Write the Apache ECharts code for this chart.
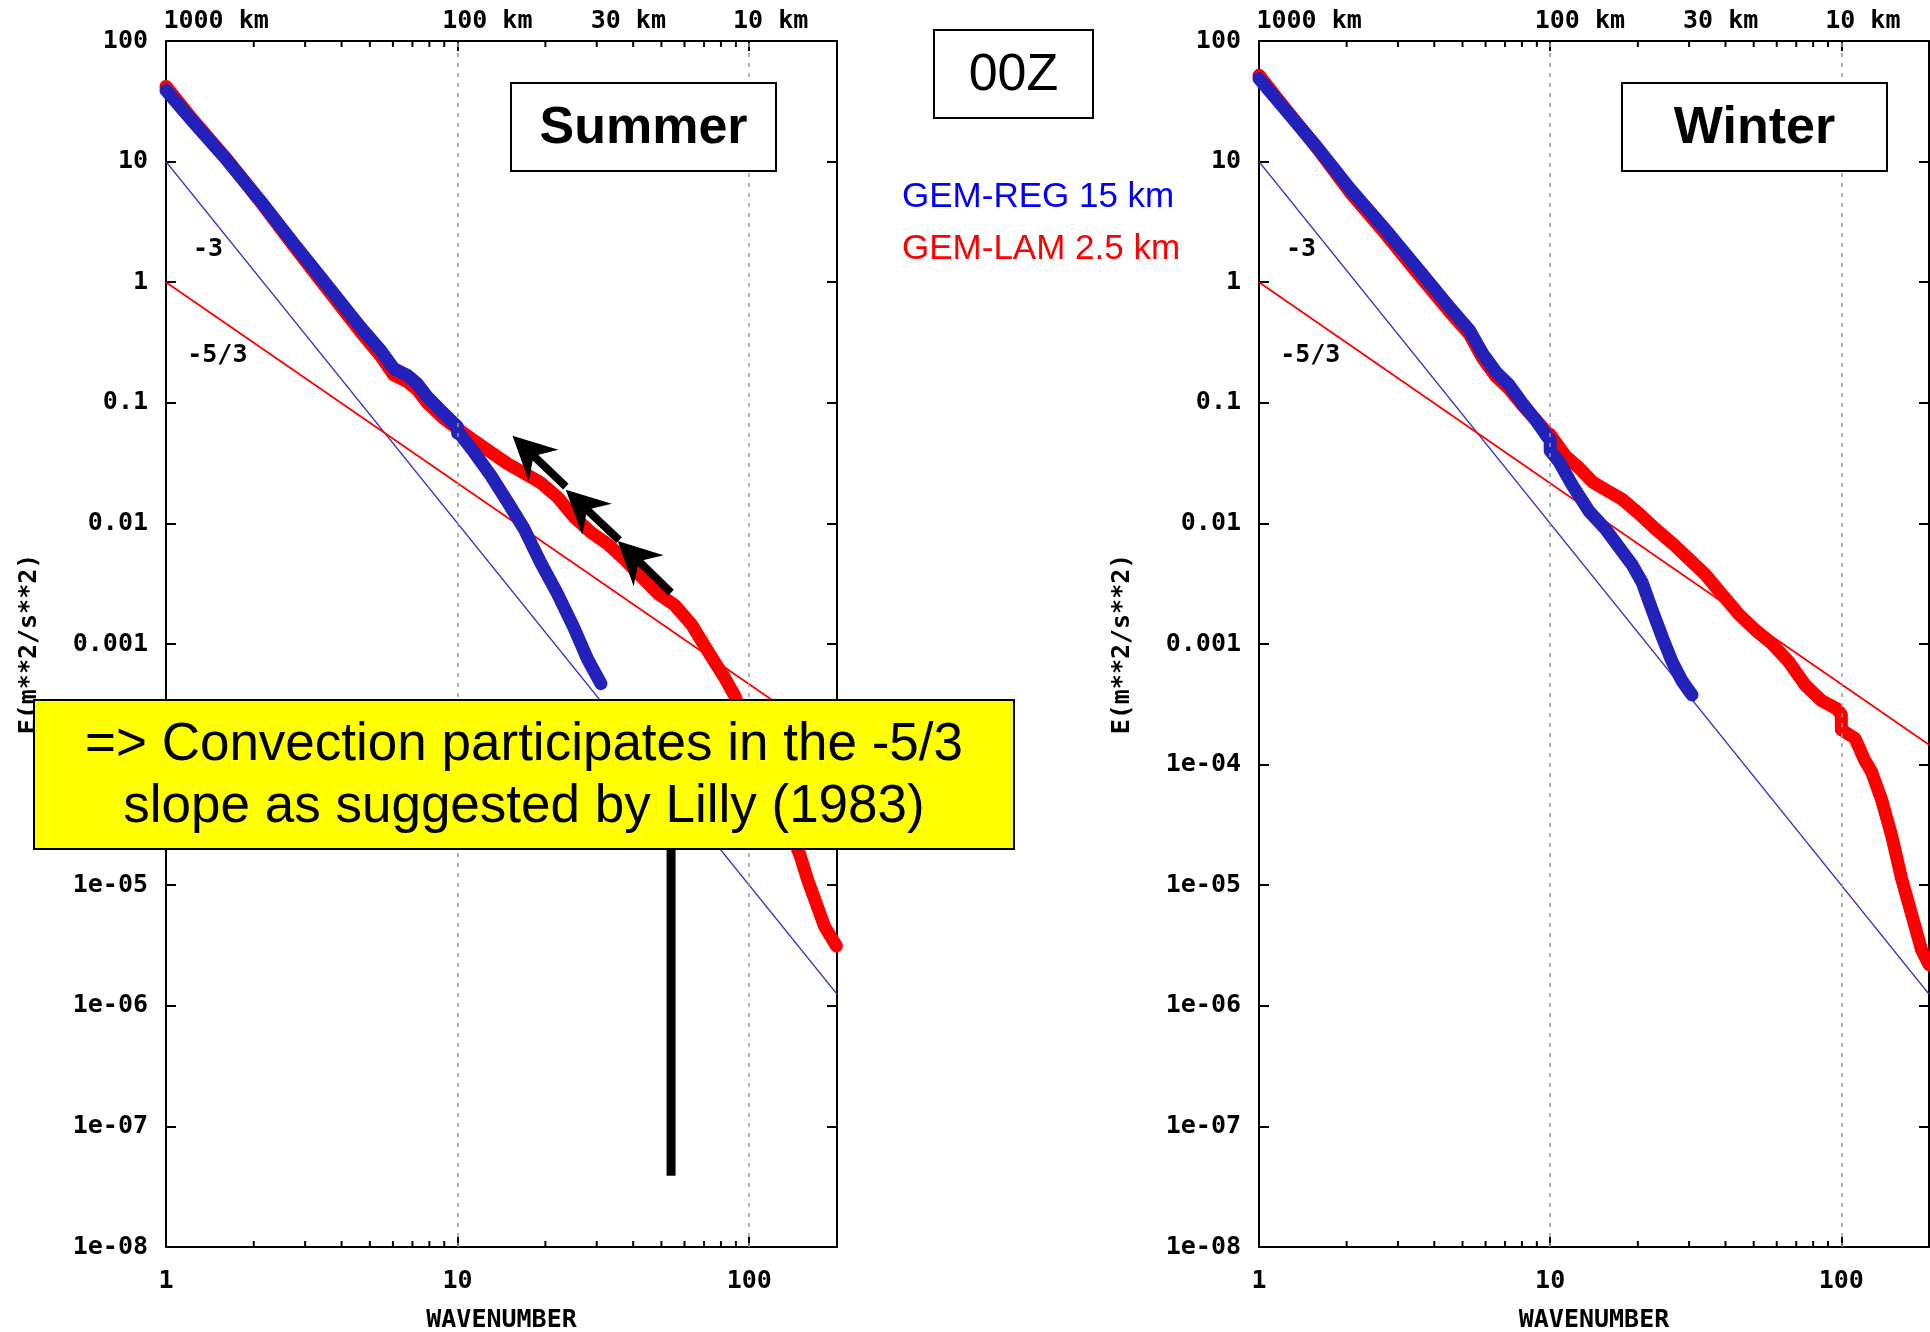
<!DOCTYPE html>
<html>
<head>
<meta charset="utf-8">
<script src="https://cdn.jsdelivr.net/npm/echarts@6/dist/echarts.min.js"></script>
<style>
  html, body { margin: 0; padding: 0; background: #ffffff; }
  #chart { width: 1930px; height: 1332px; }
</style>
</head>
<body>
<div id="chart"></div>
<script>
// Kinetic energy spectra at 00Z: GEM-REG 15 km vs GEM-LAM 2.5 km, Summer and Winter.

// ---- Summer ----
const summerRegN = [1, 1.24, 1.62, 2.1, 2.74, 3.57, 4.64, 5.44, 6.04, 6.72, 7.27, 7.87, 8.97, 10, 10, 10.24, 11.38, 12.98, 14.82, 16.9, 19.3, 22.0, 25.1, 27.9, 31.0];
const summerRegE = [39, 21.3, 10.25, 4.77, 2.09, 0.942, 0.425, 0.273, 0.192, 0.169, 0.144, 0.112, 0.0813, 0.063, 0.056, 0.0542, 0.039, 0.0251, 0.0151, 0.00903, 0.00469, 0.00261, 0.00135, 7.5e-4, 4.69e-4];

const summerLamN = [1, 1.24, 1.62, 2.1, 2.74, 3.57, 4.64, 5.44, 6.04, 6.72, 7.27, 7.87, 8.97, 10, 11.38, 12.98, 14.82, 16.9, 19.3, 22.0, 25.1, 28.7, 32.7, 37.3, 42.6, 48.7, 55.5, 63.3, 72.2, 82.4, 89, 149, 159, 181.5, 199];
const summerLamE = [42, 22, 10.4, 4.7, 2.0, 0.88, 0.39, 0.245, 0.17, 0.15, 0.128, 0.1, 0.074, 0.061, 0.0485, 0.039, 0.0313, 0.0261, 0.0217, 0.0165, 0.01126, 0.0084, 0.00675, 0.00504, 0.00363, 0.00261, 0.0021, 0.00146, 8.7e-4, 5.24e-4, 3.76e-4, 1.8e-5, 1.09e-5, 4.53e-6, 3.14e-6];

// ---- Winter ----
const winterRegN = [1, 1.21, 1.58, 2.05, 2.67, 3.47, 4.51, 5.28, 5.86, 6.52, 7.24, 8.04, 8.93, 9.79, 10, 10, 10.74, 11.93, 13.6, 15.5, 17.2, 19.1, 20.7, 22.4, 24.3, 26.2, 28.4, 30.7];
const winterRegE = [48.8, 28.3, 13.2, 5.97, 2.87, 1.34, 0.622, 0.399, 0.256, 0.18, 0.14, 0.0984, 0.0716, 0.052, 0.05, 0.04, 0.0323, 0.0206, 0.0126, 0.00897, 0.00638, 0.00455, 0.00324, 0.00191, 0.00113, 7.18e-4, 4.92e-4, 3.78e-4];

const winterLamN = [1, 1.21, 1.58, 2.05, 2.67, 3.47, 4.51, 5.28, 5.86, 6.52, 7.24, 8.04, 8.93, 9.79, 10, 11.3, 12.57, 13.96, 15.5, 17.69, 20.17, 23.0, 26.2, 29.9, 34.1, 38.9, 44.4, 50.6, 57.7, 65.8, 75.1, 85.6, 96.4, 100, 100, 111.4, 120, 127, 137.4, 148.7, 160.9, 174.2, 188.4, 200];
const winterLamE = [52, 29, 13, 5.6, 2.65, 1.22, 0.57, 0.37, 0.235, 0.165, 0.13, 0.095, 0.072, 0.056, 0.0547, 0.0361, 0.0288, 0.0221, 0.019, 0.0158, 0.0121, 0.00897, 0.00689, 0.00509, 0.00377, 0.00258, 0.00177, 0.00131, 0.00101, 7.18e-4, 4.57e-4, 3.38e-4, 2.9e-4, 2.6e-4, 1.95e-4, 1.65e-4, 1.1e-4, 8.7e-5, 5.13e-5, 2.6e-5, 1.14e-5, 5.77e-6, 2.93e-6, 2.2e-6];

// Reference power laws (end points): k^-3 and k^-5/3
const slopeMinus3 = [[1, 10], [200, 1.25e-6]];
const slopeMinus53 = [[1, 1], [200, 1.462e-4]];

// Axis ticks and labels
const yTickValues = [1e-8, 1e-7, 1e-6, 1e-5, 1e-4, 1e-3, 1e-2, 1e-1, 1, 10, 100];
const yTickLabels = ['1e-08', '1e-07', '1e-06', '1e-05', '1e-04', '0.001', '0.01', '0.1', '1', '10', '100'];
const xTickValues = [1, 10, 100];
const xTickLabels = ['1', '10', '100'];
const xMajorTicks = [10, 100];
const xMinorTicks = [2, 3, 4, 5, 6, 7, 8, 9, 20, 30, 40, 50, 60, 70, 80, 90];
const xGridLines = [10, 100];

// Wavelength scale along the top (label start wavenumber)
const topScaleLabels = ['1000 km', '100 km', '30 km', '10 km'];
const topScaleStartN = [0.98, 8.85, 28.6, 88];

// Annotations (wavenumber, energy)
const slopeLabels = [{ text: '-3', at: [1.394, 1.86] }, { text: '-5/3', at: [1.5, 0.245] }];
const summerArrows = [
  { tail: [23.5, 0.0202], tip: [15.42, 0.0533] },
  { tail: [35.8, 0.00726], tip: [23.5, 0.019] },
  { tail: [53.95, 0.00267], tip: [35.4, 0.00716] }
];
const summerMarker = { n: 53.95, from: 3e-5, to: 3.9e-8 };

const seasons = ['Summer', 'Winter'];
const regName = 'GEM-REG 15 km';
const lamName = 'GEM-LAM 2.5 km';
const noteLines = ['=> Convection participates in the -5/3', 'slope as suggested by Lilly (1983)'];

const X_MIN = 1, X_MAX = 200, Y_MIN = 1e-8, Y_MAX = 100;
const MONO = '"DejaVu Sans Mono", monospace';
const SANS = '"Liberation Sans", Arial, sans-serif';
const REG_COLOR = '#2222bb';
const LAM_COLOR = '#ff0000';
const BAND = 13;

const pairs = (ns, es) => ns.map((n, i) => [n, es[i]]);
const sameDecade = (a, b) => Math.abs(Math.log10(a) - Math.log10(b)) < 1e-6;

const panels = [
  { reg: pairs(summerRegN, summerRegE), lam: pairs(summerLamN, summerLamE) },
  { reg: pairs(winterRegN, winterRegE), lam: pairs(winterLamN, winterLamE) }
];

const grids = [
  { left: 166, top: 41, width: 671, height: 1206, containLabel: false, outerBoundsMode: 'none' },
  { left: 1259, top: 41, width: 670, height: 1206, containLabel: false, outerBoundsMode: 'none' }
];

const axisText = { color: '#000', fontFamily: MONO, fontWeight: 'bold', fontSize: 25 };
const blackLine = { color: '#000', width: 2 };

function xAxesFor(g) {
  const base = { type: 'log', logBase: 10, gridIndex: g, min: X_MIN, max: X_MAX, splitLine: { show: false } };
  return [
    Object.assign({}, base, {
      position: 'bottom',
      axisLine: { show: true, onZero: false, lineStyle: blackLine },
      axisTick: { show: true, inside: true, length: 10, lineStyle: blackLine, customValues: xMajorTicks },
      axisLabel: Object.assign({
        show: true, margin: 22, customValues: xTickValues,
        formatter: v => { const i = xTickValues.findIndex(t => sameDecade(t, v)); return i >= 0 ? xTickLabels[i] : ''; }
      }, axisText),
      name: 'WAVENUMBER', nameLocation: 'middle', nameGap: 61, nameTextStyle: axisText
    }),
    Object.assign({}, base, {
      position: 'top',
      axisLine: { show: true, onZero: false, lineStyle: blackLine },
      axisTick: { show: true, inside: true, length: 10, lineStyle: blackLine, customValues: xMajorTicks },
      axisLabel: { show: false }
    })
  ];
}

function yAxesFor(g) {
  const base = { type: 'log', logBase: 10, gridIndex: g, min: Y_MIN, max: Y_MAX, splitLine: { show: false } };
  return [
    Object.assign({}, base, {
      position: 'left',
      axisLine: { show: true, onZero: false, lineStyle: blackLine },
      axisTick: { show: true, inside: true, length: 10, lineStyle: blackLine, customValues: yTickValues },
      axisLabel: Object.assign({
        show: true, margin: 18, customValues: yTickValues,
        formatter: v => { const i = yTickValues.findIndex(t => sameDecade(t, v)); return i >= 0 ? yTickLabels[i] : ''; }
      }, axisText),
      name: 'E(m**2/s**2)', nameLocation: 'middle', nameGap: 124, nameRotate: 90, nameTextStyle: axisText
    }),
    Object.assign({}, base, {
      position: 'right',
      axisLine: { show: true, onZero: false, lineStyle: blackLine },
      axisTick: { show: true, inside: true, length: 10, lineStyle: blackLine, customValues: yTickValues },
      axisLabel: { show: false }
    })
  ];
}

function seriesFor(p, g) {
  const ax = { xAxisIndex: 2 * g, yAxisIndex: 2 * g };
  return [
    Object.assign({
      type: 'line', name: 'slope -3', data: slopeMinus3, showSymbol: false, silent: true, z: 1,
      lineStyle: { color: '#3636cc', width: 1.5 },
      markLine: {
        silent: true, symbol: 'none', label: { show: false },
        lineStyle: { color: '#9a9a9a', type: [4, 6], width: 1.5 },
        data: xGridLines.map(v => ({ xAxis: v }))
      }
    }, ax),
    Object.assign({
      type: 'line', name: 'slope -5/3', data: slopeMinus53, showSymbol: false, silent: true, z: 1,
      lineStyle: { color: '#ff0000', width: 1.8 }
    }, ax),
    Object.assign({
      type: 'line', name: lamName, data: p.lam, showSymbol: false, z: 3, color: LAM_COLOR,
      lineStyle: { color: LAM_COLOR, width: BAND, cap: 'round', join: 'round' }
    }, ax),
    Object.assign({
      type: 'line', name: regName, data: p.reg, showSymbol: false, z: 4, color: REG_COLOR,
      lineStyle: { color: REG_COLOR, width: BAND, cap: 'round', join: 'round' }
    }, ax),
    Object.assign({
      type: 'custom', name: 'minor ticks', silent: true, z: 5,
      data: xMinorTicks.map(n => [n, Y_MIN]),
      renderItem: (params, api) => {
        const n = api.value(0);
        const b = api.coord([n, Y_MIN]);
        const t = api.coord([n, Y_MAX]);
        return {
          type: 'group',
          children: [
            { type: 'line', shape: { x1: b[0], y1: b[1], x2: b[0], y2: b[1] - 6 }, style: { stroke: '#000', lineWidth: 2 } },
            { type: 'line', shape: { x1: t[0], y1: t[1], x2: t[0], y2: t[1] + 6 }, style: { stroke: '#000', lineWidth: 2 } }
          ]
        };
      }
    }, ax)
  ];
}

const chart = echarts.init(document.getElementById('chart'), null, { renderer: 'canvas' });

chart.setOption({
  animation: false,
  backgroundColor: '#ffffff',
  grid: grids,
  xAxis: [].concat(xAxesFor(0), xAxesFor(1)),
  yAxis: [].concat(yAxesFor(0), yAxesFor(1)),
  legend: {
    orient: 'vertical', left: 892, top: 172, itemWidth: 0, itemHeight: 0, itemGap: 12,
    selectedMode: false, icon: 'none',
    textStyle: { fontFamily: SANS, fontSize: 35, lineHeight: 40 },
    data: [
      { name: regName, icon: 'none', textStyle: { color: '#0000ff' } },
      { name: lamName, icon: 'none', textStyle: { color: '#ff0000' } }
    ]
  },
  series: [].concat(seriesFor(panels[0], 0), seriesFor(panels[1], 1))
});

// ---- annotations placed through the axes' scales ----
const toPx = (g, pt) => chart.convertToPixel({ xAxisIndex: 2 * g, yAxisIndex: 2 * g }, pt);
const graphics = [];

function textEl(x, y, text, font, fill, align, z) {
  return { type: 'text', x: x, y: y, z: z || 100, silent: true,
    style: { text: text, font: font, fill: fill || '#000', align: align || 'center', verticalAlign: 'middle' } };
}

function boxEl(x, y, w, h, fill, z) {
  return { type: 'rect', z: z || 100, silent: true, shape: { x: x, y: y, width: w, height: h },
    style: { fill: fill || '#fff', stroke: '#000', lineWidth: 2 } };
}

[0, 1].forEach(g => {
  // wavelength labels above the plot
  topScaleLabels.forEach((lab, i) => {
    const p = toPx(g, [topScaleStartN[i], Y_MAX]);
    graphics.push(textEl(p[0], p[1] - 20, lab, 'bold 25px ' + MONO, '#000', 'left'));
  });
  // slope labels
  slopeLabels.forEach(s => {
    const p = toPx(g, s.at);
    graphics.push(textEl(p[0], p[1], s.text, 'bold 25px ' + MONO, '#000', 'center'));
  });
});

// season boxes
graphics.push(boxEl(511, 83, 265, 88, '#fff', 100));
graphics.push(textEl(643.5, 129, seasons[0], 'bold 52px ' + SANS));
graphics.push(boxEl(1622, 83, 265, 88, '#fff', 100));
graphics.push(textEl(1754.5, 129, seasons[1], 'bold 52px ' + SANS));

// time stamp box
graphics.push(boxEl(934, 30, 159, 88, '#fff', 100));
graphics.push(textEl(1013.5, 76, '00Z', '52px ' + SANS));

// arrows following the LAM spectrum (Summer panel)
summerArrows.forEach(a => {
  const T = toPx(0, a.tail), P = toPx(0, a.tip);
  const dx = P[0] - T[0], dy = P[1] - T[1];
  const len = Math.hypot(dx, dy);
  const ux = dx / len, uy = dy / len, px = -uy, py = ux;
  const L = 43, W = 43;
  const base = [P[0] - ux * L, P[1] - uy * L];
  const notch = [P[0] - ux * L * 0.68, P[1] - uy * L * 0.68];
  const w1 = [base[0] + px * W / 2, base[1] + py * W / 2];
  const w2 = [base[0] - px * W / 2, base[1] - py * W / 2];
  graphics.push({ type: 'line', z: 95, silent: true, shape: { x1: T[0], y1: T[1], x2: notch[0], y2: notch[1] },
    style: { stroke: '#000', lineWidth: 8 } });
  graphics.push({ type: 'polygon', z: 95, silent: true, shape: { points: [P, w1, notch, w2] }, style: { fill: '#000' } });
});

// vertical marker below the note
(function () {
  const a = toPx(0, [summerMarker.n, summerMarker.from]);
  const b = toPx(0, [summerMarker.n, summerMarker.to]);
  graphics.push({ type: 'line', z: 95, silent: true, shape: { x1: a[0], y1: a[1], x2: b[0], y2: b[1] },
    style: { stroke: '#000', lineWidth: 9 } });
})();

// yellow note
graphics.push(boxEl(34, 700, 980, 149, '#ffff00', 110));
graphics.push(textEl(524, 745, noteLines[0], '53px ' + SANS, '#000', 'center', 111));
graphics.push(textEl(524, 807, noteLines[1], '53px ' + SANS, '#000', 'center', 111));

chart.setOption({ graphic: { elements: graphics } });
</script>
</body>
</html>
